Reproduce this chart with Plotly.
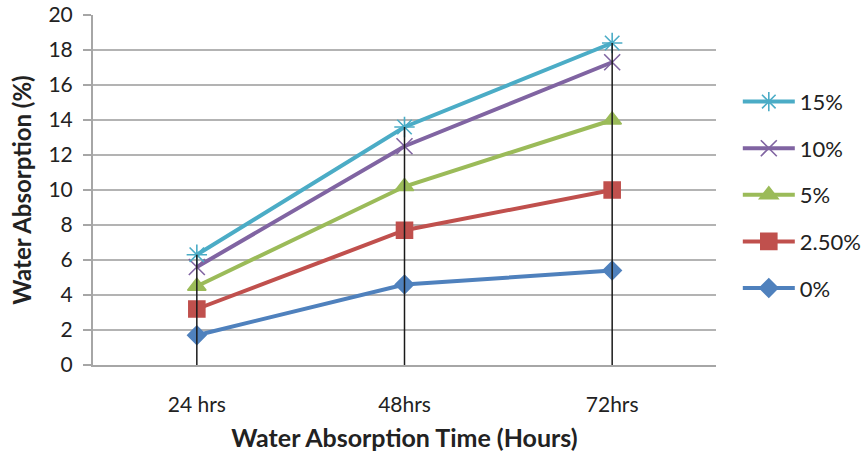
import plotly.graph_objects as go

# Soaking time categories
times = ["24 hrs", "48hrs", "72hrs"]

# Water absorption (%) for each additive content
wa_0 = [1.7, 4.6, 5.4]
wa_2_5 = [3.2, 7.7, 10.0]
wa_5 = [4.5, 10.2, 14.0]
wa_10 = [5.6, 12.5, 17.3]
wa_15 = [6.3, 13.6, 18.4]

series_names = ["0%", "2.50%", "5%", "10%", "15%"]
series_values = [wa_0, wa_2_5, wa_5, wa_10, wa_15]
colors = ["#4F81BD", "#C0504D", "#9BBB59", "#8064A2", "#4BACC6"]
symbols = ["diamond", "square", "triangle-up", "x-thin-open", "asterisk-open"]
sizes = [14, 16, 16, 16, 17]

y_ticks = list(range(0, 21, 2))

font_family = "Lato, Liberation Sans, sans-serif"
text_color = "#222222"

fig = go.Figure()

for i, (name, vals) in enumerate(zip(series_names, series_values)):
    fig.add_trace(go.Scatter(
        x=times, y=vals, name=name, mode="lines+markers",
        line=dict(color=colors[i], width=4),
        marker=dict(symbol=symbols[i], size=sizes[i], color=colors[i],
                    line=dict(color=colors[i], width=1.6)),
        legendgroup=name, legendrank=100 - i,
    ))

# Drop lines from the highest value at each time down to the axis
drop_x, drop_y = [], []
for j, t in enumerate(times):
    top = max(v[j] for v in series_values)
    drop_x += [t, t, None]
    drop_y += [0, top, None]
fig.add_trace(go.Scatter(
    x=drop_x, y=drop_y, mode="lines", showlegend=False, hoverinfo="skip",
    line=dict(color="#1a1a1a", width=1.5),
))

fig.update_layout(
    width=866, height=458,
    margin=dict(l=93, r=150, t=15, b=93, autoexpand=False),
    paper_bgcolor="white", plot_bgcolor="white",
    font=dict(family=font_family, size=21, color=text_color),
    legend=dict(
        x=1.035, y=0.812, xanchor="left", yanchor="top",
        traceorder="grouped", tracegroupgap=15,
        font=dict(size=22, color=text_color),
        itemwidth=52,
    ),
    xaxis=dict(
        type="category", range=[-0.5, 2.5], automargin=False,
        showline=True, linecolor="#A6A6A6", linewidth=2,
        showgrid=False, ticks="", ticklabelstandoff=20,
        tickfont=dict(size=21),
        title=dict(text="<b>Water Absorption Time (Hours)</b>",
                   font=dict(size=25, color=text_color), standoff=14),
    ),
    yaxis=dict(
        range=[0, 20], tickvals=y_ticks, automargin=False,
        showline=True, linecolor="#A6A6A6", linewidth=2,
        showgrid=True, gridcolor="#B3B3B3", gridwidth=1.5,
        ticks="outside", ticklen=8, tickcolor="#A6A6A6", tickwidth=1.5,
        ticklabelstandoff=6, tickfont=dict(size=21),
        zeroline=False,
        title=dict(text="<b>Water Absorption (%)</b>",
                   font=dict(size=24, color=text_color), standoff=10),
    ),
)

fig.write_html("out.html")
